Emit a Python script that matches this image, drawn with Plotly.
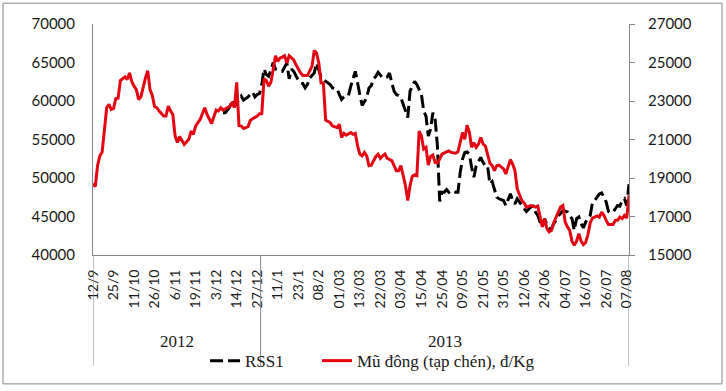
import plotly.graph_objects as go

# ---------------- data ----------------
date_labels = ["12/9", "25/9", "11/10", "26/10", "6/11", "19/11", "3/12", "14/12", "27/12",
               "11/1", "23/1", "08/2", "01/03", "13/03", "22/03", "03/04", "15/04", "25/04",
               "09/05", "21/05", "31/05", "12/06", "24/06", "04/07", "16/07", "26/07", "07/08"]
LABEL_STEP = 9          # categories between two printed date labels
N_CATEGORIES = 236      # trading days on the category axis
YEAR_SPLIT = 73.5       # boundary between 2012 and 2013 on the category axis
years = ["2012", "2013"]

# RSS1 (left axis) : category index / price
rss1_idx = [57, 58, 60, 61, 62, 64, 65, 66, 67, 68, 70, 71, 72, 73, 74, 75, 76, 77, 78, 79,
            80, 81, 83, 84, 85, 86, 87, 88, 89, 90, 91, 92, 93, 94, 95, 97, 98, 99, 100, 101,
            102, 104, 105, 107, 108, 109, 110, 111, 112, 113, 115, 116, 117, 118, 119, 120, 121, 122, 123, 124,
            125, 126, 127, 129, 130, 131, 132, 133, 134, 135, 136, 137, 138, 139, 140, 141, 142, 143, 144, 145,
            146, 147, 148, 149, 150, 151, 152, 153, 154, 155, 156, 157, 159, 160, 161, 162, 163, 164, 165, 166,
            167, 168, 169, 170, 171, 172, 173, 174, 175, 176, 177, 178, 180, 181, 182, 183, 184, 185, 186, 187,
            188, 189, 190, 192, 193, 194, 195, 196, 197, 198, 199, 200, 201, 202, 203, 204, 205, 206, 208, 209,
            210, 211, 212, 213, 214, 215, 216, 218, 219, 220, 221, 222, 223, 224, 225, 226, 227, 228, 229, 230,
            231, 232, 233, 234, 235]
rss1_val = [58480, 58480, 59250, 60110, 59250, 60200, 60620, 60110, 60290, 60540, 61140, 60540, 60840, 60970, 62130, 64160, 63420, 63200, 63980, 65010,
            64160, 63980, 63850, 64490, 64930, 62870, 64160, 63850, 63290, 62690, 62350, 62260, 61700, 62130, 63000, 63640, 64930, 64070, 63120, 62780,
            62560, 62130, 61700, 61580, 60840, 60200, 60540, 60710, 60710, 61910, 63850, 62130, 60840, 59420, 59980, 60420, 61700, 62000, 62870, 63200,
            63720, 63290, 63000, 63120, 63640, 62350, 61270, 60840, 60710, 60420, 59550, 58910, 57840, 61270, 61910, 62560, 62130, 61490, 60840, 58690,
            58040, 55460, 56330, 58480, 57620, 54170, 46950, 48160, 48160, 48500, 48160, 48370, 48160, 48160, 50740, 52460, 53320, 53400, 53100, 51390,
            50100, 51590, 52240, 52680, 52030, 51590, 51590, 49230, 49530, 48370, 47520, 47300, 47080, 46430, 47300, 47940, 47080, 46650, 47300, 46870,
            46430, 45920, 45660, 46230, 46350, 45580, 45140, 44290, 43650, 44720, 43940, 43520, 43340, 44070, 44500, 45140, 45360, 45790, 45580, 45140,
            44720, 43210, 44720, 44940, 44070, 43520, 44290, 45140, 46870, 47080, 47520, 47940, 48070, 47520, 46870, 45660, 45490, 45580, 46100, 46430,
            46350, 47080, 47300, 46430, 49200]

# Mu dong (right axis) : category index / price
mu_idx = [0, 1, 2, 3, 4, 6, 7, 8, 9, 10, 11, 12, 14, 15, 16, 17, 18, 19, 20, 21,
          23, 24, 25, 26, 27, 28, 29, 31, 32, 33, 34, 35, 36, 37, 38, 39, 40, 42, 43, 44,
          45, 46, 47, 49, 50, 52, 53, 54, 55, 56, 57, 59, 60, 61, 62, 63, 64, 65, 66, 68,
          69, 70, 72, 73, 74, 75, 76, 77, 78, 79, 80, 81, 82, 83, 84, 85, 86, 88, 89, 91,
          92, 94, 95, 96, 97, 98, 99, 100, 101, 102, 104, 105, 107, 108, 109, 110, 111, 113, 114, 115,
          116, 117, 118, 119, 120, 121, 122, 124, 125, 126, 127, 128, 129, 131, 132, 133, 134, 135, 136, 137,
          138, 139, 140, 141, 142, 143, 144, 145, 146, 147, 148, 149, 150, 151, 152, 153, 155, 156, 157, 159,
          160, 161, 162, 163, 164, 165, 166, 167, 168, 169, 170, 171, 172, 174, 175, 176, 177, 178, 180, 181,
          182, 183, 184, 185, 186, 187, 188, 189, 190, 192, 193, 194, 195, 196, 197, 198, 199, 200, 201, 202,
          203, 204, 205, 206, 207, 208, 209, 210, 211, 212, 213, 214, 215, 216, 217, 218, 219, 221, 222, 223,
          224, 225, 226, 228, 229, 230, 231, 232, 233, 234, 235]
mu_val = [18700, 18550, 19640, 20150, 20340, 22650, 22820, 22560, 22610, 23130, 23150, 24060, 24250, 24110, 24460, 24020, 23770, 23590, 23080, 23220,
          24200, 24580, 23590, 23290, 22700, 22650, 22480, 22220, 22220, 22730, 22480, 22300, 21190, 20840, 21150, 20930, 20740, 21010, 21440, 21270,
          21700, 21880, 22050, 22650, 22300, 21830, 22220, 22530, 22480, 22650, 22530, 22650, 22730, 22940, 22650, 23970, 21730, 21700, 21570, 21670,
          22000, 22080, 22220, 22340, 22340, 24150, 24070, 23770, 23970, 24630, 25350, 25050, 25230, 25280, 25350, 24970, 25350, 25140, 24880, 24460,
          24320, 24320, 24540, 24800, 25620, 25490, 24970, 23940, 23940, 22010, 21880, 21700, 21620, 21790, 21100, 21320, 21220, 21360, 21270, 21320,
          20670, 20240, 20150, 20330, 20150, 19640, 19670, 20120, 20240, 20020, 20150, 20240, 20020, 19900, 19640, 19380, 19380, 19640, 19120, 18600,
          17830, 18600, 19090, 19160, 19120, 21440, 21190, 20500, 20590, 19670, 20120, 20190, 19810, 19780, 19980, 20240, 20360, 20410, 20330, 20290,
          20360, 20930, 21360, 21010, 21740, 21390, 20590, 20840, 20590, 20760, 21100, 20760, 20670, 19780, 19640, 19380, 19640, 19670, 19470, 19210,
          19640, 19950, 19720, 19380, 18430, 18090, 17830, 17710, 17490, 17570, 17540, 17490, 17540, 17060, 16460, 16890, 16370, 16200, 16280, 16680,
          16970, 17230, 17490, 17570, 16720, 16460, 16280, 15720, 15510, 15720, 16110, 15720, 15540, 15650, 16060, 16680, 16920, 17030, 16970, 17230,
          17060, 16800, 16580, 16580, 16800, 16800, 16970, 16890, 17060, 16920, 18100]

left_ticks = [40000, 45000, 50000, 55000, 60000, 65000, 70000]
right_ticks = [15000, 17000, 19000, 21000, 23000, 25000, 27000]

# ---------------- figure ----------------
W, H = 726, 391
ML, MR, MT, MB = 93, 97, 24, 134
PH = H - MT - MB
GRAY = "#868686"
TXT = "#1a1a1a"

def py(px):
    """pixel row -> paper y"""
    return (H - MB - px) / PH

def pxx(px):
    return (px - ML) / (W - ML - MR)

fig = go.Figure()
fig.add_trace(go.Scatter(x=rss1_idx, y=rss1_val, mode="lines", name="RSS1",
                         line=dict(color="#000000", width=3, dash="13px,5px"),
                         yaxis="y", legend="legend"))
fig.add_trace(go.Scatter(x=mu_idx, y=mu_val, mode="lines", name="Mũ đông (tạp chén), đ/Kg",
                         line=dict(color="#e30613", width=3), yaxis="y2", legend="legend2"))

tickvals = [i * LABEL_STEP for i in range(len(date_labels))]
legend_font = dict(family="Liberation Serif", size=17, color=TXT)

fig.update_layout(
    template="none",
    width=W, height=H,
    margin=dict(l=ML, r=MR, t=MT, b=MB, pad=0),
    paper_bgcolor="white", plot_bgcolor="white",
    showlegend=True,
    legend=dict(orientation="h", x=pxx(205), xanchor="left", y=py(364), yanchor="middle",
                font=legend_font, bgcolor="rgba(0,0,0,0)", borderwidth=0),
    legend2=dict(orientation="h", x=pxx(317), xanchor="left", y=py(364), yanchor="middle",
                 font=legend_font, bgcolor="rgba(0,0,0,0)", borderwidth=0),
    xaxis=dict(range=[0, N_CATEGORIES - 1], tickvals=tickvals, ticktext=date_labels,
               tickangle=-90, showline=True, linecolor=GRAY, linewidth=1,
               showgrid=False, zeroline=False, ticks="", automargin=False,
               ticklabelstandoff=8,
               tickfont=dict(family="Lato", size=14, color=TXT)),
    yaxis=dict(range=[40000, 70000], tickvals=left_ticks, showline=True, linecolor=GRAY,
               linewidth=1, showgrid=False, zeroline=False, ticks="", automargin=False,
               ticklabelstandoff=14, tickformat="d",
               tickfont=dict(family="Lato", size=15, color=TXT)),
    yaxis2=dict(range=[15000, 27000], tickvals=right_ticks, overlaying="y", side="right",
                showline=True, linecolor=GRAY, linewidth=1, showgrid=False, zeroline=False,
                ticks="outside", ticklen=5, tickcolor=GRAY, automargin=False,
                ticklabelstandoff=10, tickformat="d",
                tickfont=dict(family="Lato", size=15, color=TXT)),
)

# group dividers of the two-level category axis
for xv in [0, YEAR_SPLIT, N_CATEGORIES - 1]:
    fig.add_shape(type="line", xref="x", yref="paper", x0=xv, x1=xv, y0=0, y1=py(369),
                  line=dict(color=GRAY, width=1))

# year labels
year_bounds = [0, YEAR_SPLIT, N_CATEGORIES - 1]
for k, yr in enumerate(years):
    fig.add_annotation(x=(year_bounds[k] + year_bounds[k + 1]) / 2, xref="x",
                       y=py(344), yref="paper", text=yr, showarrow=False,
                       xanchor="center", yanchor="middle",
                       font=dict(family="Liberation Serif", size=17, color=TXT))

# outer chart border
fig.add_shape(type="rect", xref="paper", yref="paper",
              x0=pxx(3), x1=pxx(722), y0=py(387), y1=py(3),
              line=dict(color=GRAY, width=1), fillcolor="rgba(0,0,0,0)", layer="below")

fig.write_html("out.html", config={"displayModeBar": False},
               post_script="document.body.style.margin='0px';")
